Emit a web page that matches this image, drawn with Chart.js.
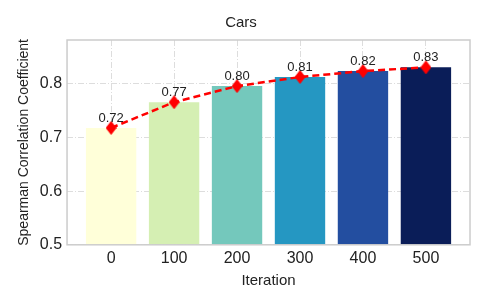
<!DOCTYPE html>
<html>
<head>
<meta charset="utf-8">
<script src="https://cdn.jsdelivr.net/npm/chart.js@4"></script>
<style>
  html, body { margin: 0; padding: 0; background: #fff; }
  #wrap { width: 487px; height: 305px; }
</style>
</head>
<body>
<div id="wrap"><canvas id="chart" width="487" height="305"></canvas></div>
<script>
// data
const iterations = ['0', '100', '200', '300', '400', '500'];
const spearman = [0.718, 0.766, 0.796, 0.813, 0.824, 0.831];
const valueLabels = ['0.72', '0.77', '0.80', '0.81', '0.82', '0.83'];
const barColors = ['#ffffd9', '#d5efb3', '#74c8bc', '#2597c2', '#234ea0', '#0a1d58'];

const FONT = '"Liberation Sans", Arial, sans-serif';

// thin diamond marker like matplotlib 'd'
const diamond = document.createElement('canvas');
diamond.width = 11;
diamond.height = 14;
const dctx = diamond.getContext('2d');
dctx.fillStyle = '#ff0000';
dctx.beginPath();
dctx.moveTo(5.5, 0);
dctx.lineTo(11, 7);
dctx.lineTo(5.5, 14);
dctx.lineTo(0, 7);
dctx.closePath();
dctx.fill();

const points = spearman.map((v, i) => ({ x: i, y: v }));

// frame round the plot area
const framePlugin = {
    id: 'frame',
    afterDraw(chart) {
        const a = chart.chartArea;
        const ctx = chart.ctx;
        ctx.save();
        ctx.strokeStyle = '#cccccc';
        ctx.lineWidth = 1.5;
        ctx.strokeRect(a.left, a.top, a.right - a.left, a.bottom - a.top);
        ctx.restore();
    }
};

// value text above each marker
const labelPlugin = {
    id: 'valueLabels',
    afterDatasetsDraw(chart) {
        const ctx = chart.ctx;
        const xs = chart.scales.x;
        const ys = chart.scales.y;
        ctx.save();
        ctx.font = '13px ' + FONT;
        ctx.fillStyle = '#222';
        ctx.textAlign = 'center';
        ctx.textBaseline = 'middle';
        spearman.forEach((v, i) => {
            ctx.fillText(valueLabels[i], xs.getPixelForValue(i), ys.getPixelForValue(v) - 10);
        });
        ctx.restore();
    }
};

const gridStyle = {
    color: '#dddddd',
    lineWidth: 1,
    tickLength: 0,
    offset: false
};

new Chart(document.getElementById('chart').getContext('2d'), {
    type: 'bar',
    data: {
        datasets: [
            {
                type: 'line',
                data: points,
                borderColor: '#ff0000',
                borderWidth: 2.5,
                borderDash: [7, 4],
                pointStyle: diamond,
                pointRadius: 6,
                fill: false,
                order: 0
            },
            {
                type: 'bar',
                data: points,
                backgroundColor: barColors,
                barPercentage: 0.8,
                categoryPercentage: 1,
                order: 1
            }
        ]
    },
    options: {
        responsive: false,
        animation: false,
        layout: { padding: { left: 12, right: 17, top: 4, bottom: 11 } },
        plugins: {
            legend: { display: false },
            tooltip: { enabled: false },
            title: {
                display: true,
                text: 'Cars',
                color: '#222',
                font: { family: FONT, size: 15, weight: 'normal' },
                padding: { top: 10, bottom: 8 }
            }
        },
        scales: {
            x: {
                type: 'linear',
                offset: false,
                min: -0.7,
                max: 5.7,
                afterBuildTicks(scale) {
                    scale.ticks = iterations.map((t, i) => ({ value: i }));
                },
                ticks: {
                    callback: (v) => iterations[v],
                    color: '#222',
                    font: { family: FONT, size: 16 },
                    padding: 4,
                    maxRotation: 0
                },
                grid: gridStyle,
                border: { display: false, dash: [6, 2, 1, 2] },
                title: {
                    display: true,
                    text: 'Iteration',
                    color: '#222',
                    font: { family: FONT, size: 15 },
                    padding: { top: 0 }
                }
            },
            y: {
                min: 0.5,
                max: 0.882,
                afterBuildTicks(scale) {
                    scale.ticks = [0.5, 0.6, 0.7, 0.8].map(v => ({ value: v }));
                },
                ticks: {
                    callback: (v) => v.toFixed(1),
                    color: '#222',
                    font: { family: FONT, size: 16 },
                    padding: 5
                },
                grid: gridStyle,
                border: { display: false, dash: [6, 2, 1, 2] },
                title: {
                    display: true,
                    text: 'Spearman Correlation Coefficient',
                    color: '#222',
                    font: { family: FONT, size: 14 },
                    padding: { bottom: 2 }
                }
            }
        }
    },
    plugins: [framePlugin, labelPlugin]
});
</script>
</body>
</html>
